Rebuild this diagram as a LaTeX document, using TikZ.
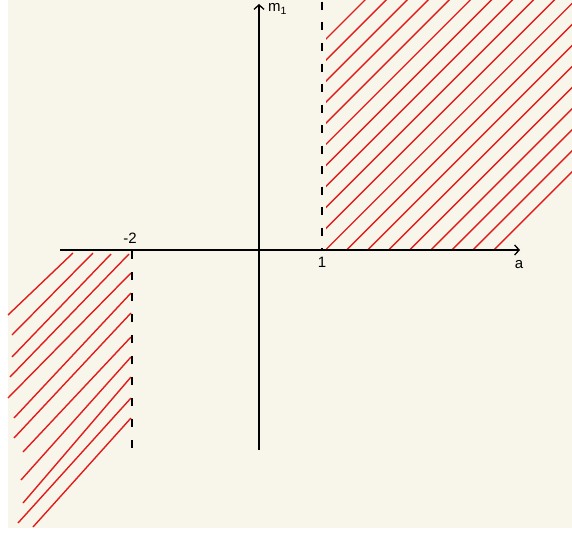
\documentclass[tikz,border=0pt]{standalone}
\usepackage{fontspec}
\setmainfont{Liberation Sans}
\usetikzlibrary{arrows.meta}

\definecolor{paper}{RGB}{248,246,234}
\definecolor{hatchred}{RGB}{226,28,28}

\begin{document}
\begin{tikzpicture}[
        x = 1pt, y = -1pt,
        >= {Straight Barb[length = 4.5pt, width = 10pt]},
        axis/.style = {draw = black, line width = 1.3pt, ->},
        bound/.style = {draw = black, line width = 1.3pt},
        hatch/.style = {draw = hatchred, line width = 1.4pt},
        every node/.style = {font = \fontsize{15}{17}\selectfont, inner sep = 0pt}
    ]
      \useasboundingbox (0, 0) rectangle (572, 535);
      \fill[paper] (8, 0) rectangle (572, 528);

      % hatching, upper right
      \begin{scope}
        \clip (326, 0) rectangle (572, 250);
        \foreach \k in {0, ..., 18}
          \draw[hatch] ({115 + 21.05*\k}, 250) -- ++(300, -300);
      \end{scope}

      % hatching, lower left
      \foreach \xa/\ya/\xb/\yb in {8/315/73/253, 12/335/93/253, 12/357/111/254,
          10/377/129/254, 8/398/131/273, 14/418/131/293, 14/438/131/313,
          23/452/131/337, 21/480/131/357, 23/503/131/377, 18/523/131/398,
          33/527/131/418}
        \draw[hatch] (\xa, \ya) -- (\xb, \yb);

      % axes
      \coordinate (xstart) at (60, 250);
      \coordinate (xend) at (520, 250);
      \coordinate (ystart) at (259, 450);
      \coordinate (yend) at (259, 4);
      \draw[axis] (xstart) -- (xend);
      \draw[axis] (ystart) -- (yend);

      % bounds
      \coordinate (onetop) at (322, 2);
      \coordinate (one) at (322, 250);
      \coordinate (mtwo) at (132, 251);
      \coordinate (mtwobot) at (132, 448);
      \draw[bound, dash pattern = on 8pt off 12.5pt] (onetop) -- (one);
      \draw[bound, dash pattern = on 8pt off 13pt] (mtwo) -- (mtwobot);

      % labels
      \node[anchor = base] (lbl_a) at (519, 268) {a};
      \node[anchor = base] (lbl_one) at (322, 267) {1};
      \node[anchor = base] (lbl_mtwo) at (130, 243) {-2};
      \node[anchor = base west] (lbl_m) at (268, 12) {m\textsubscript{1}};
\end{tikzpicture}
\end{document}
